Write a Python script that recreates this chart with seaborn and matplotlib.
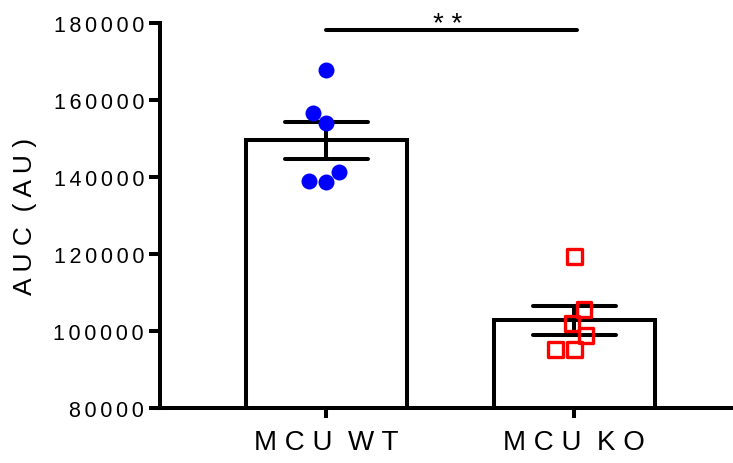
import numpy as np
import pandas as pd
import matplotlib
matplotlib.use("Agg")
import matplotlib.pyplot as plt
from matplotlib.ticker import FuncFormatter
import seaborn as sns

# ---------------------------
# Data
# ---------------------------
groups = ["MCU WT", "MCU KO"]
group_labels = ["M C U  W T", "M C U  K O"]
wt_auc = [167800, 156600, 154000, 141300, 138700, 139000]
ko_auc = [119400, 105600, 102000, 98900, 95250, 95250]
y_ticks = [80000, 100000, 120000, 140000, 160000, 180000]
sig_text = "* *"

df = pd.DataFrame({
    "group": [groups[0]] * len(wt_auc) + [groups[1]] * len(ko_auc),
    "auc": wt_auc + ko_auc,
})

# ---------------------------
# Style
# ---------------------------
sns.set_style("ticks")
plt.rcParams["font.family"] = ["Liberation Sans", "DejaVu Sans"]
plt.rcParams["text.color"] = "black"
plt.rcParams["xtick.color"] = "black"
plt.rcParams["ytick.color"] = "black"
plt.rcParams["axes.labelcolor"] = "black"
plt.rcParams["axes.edgecolor"] = "black"
lw = 2.9

fig = plt.figure(figsize=(7.33, 4.64), dpi=100)
ax = fig.add_axes([0.2183, 0.1185, 0.7817, 0.8297])

# bars + SEM
sns.barplot(data=df, x="group", y="auc", order=groups, ax=ax,
            errorbar="se", capsize=0.335, width=0.65,
            color="white", saturation=1, edgecolor="black", linewidth=lw,
            err_kws={"color": "black", "linewidth": lw})

# individual points
wt = df[df["group"] == groups[0]]
ko = df[df["group"] == groups[1]]
sns.swarmplot(data=wt, x="group", y="auc", order=groups, ax=ax,
              color="#0000ff", size=11.5, linewidth=0, zorder=3)
sns.swarmplot(data=ko, x="group", y="auc", order=groups, ax=ax,
              marker="s", color="#ff0000", facecolors="none",
              edgecolor="#ff0000", size=10.5, linewidth=2.4, zorder=3)

# axes
ax.set_ylim(80000, 180000)
ax.set_xlim(-0.67, 1.64)
ax.set_yticks(y_ticks)
ax.yaxis.set_major_formatter(FuncFormatter(lambda v, p: "\u2006".join(str(int(v)))))
ax.set_xticks([0, 1])
ax.set_xticklabels(group_labels, fontsize=20)
ax.tick_params(axis="y", labelsize=15.5, length=8, width=lw, pad=3.5)
ax.tick_params(axis="x", length=7, width=lw, pad=8)
ax.set_xlabel("")
ax.set_ylabel("A U C  ( A U )", fontsize=19)
ax.yaxis.set_label_coords(-0.215, 0.5)
for s in ["left", "bottom"]:
    ax.spines[s].set_linewidth(lw)
sns.despine(ax=ax)

# significance bar
ax.plot([0, 1.01], [178200, 178200], color="black", linewidth=lw, clip_on=False)
ax.text(0.49, 177900, sig_text, ha="center", va="baseline", fontsize=20)

plt.savefig("out.png", dpi=100)
